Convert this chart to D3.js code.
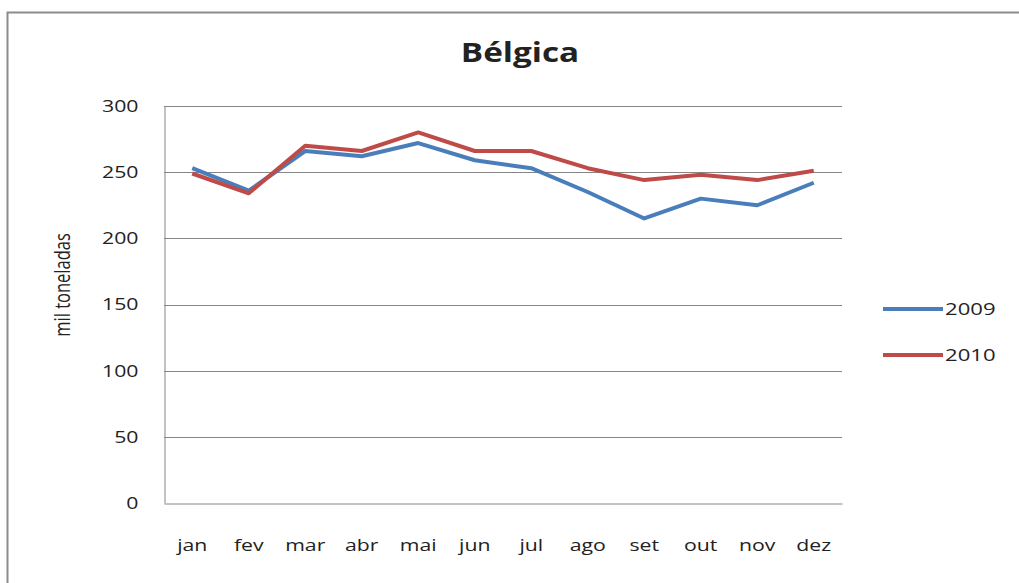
<!DOCTYPE html>
<html>
<head>
<meta charset="utf-8">
<script src="https://cdn.jsdelivr.net/npm/d3@7"></script>
<style>
  html, body { margin: 0; padding: 0; background: #fff; }
  svg { display: block; }
  text { font-family: "Open Sans", "Noto Sans", sans-serif; fill: #222; }
</style>
</head>
<body>
<svg id="chart" width="1019" height="583"></svg>
<script>
const months = ["jan","fev","mar","abr","mai","jun","jul","ago","set","out","nov","dez"];
const values2009 = [253, 236, 266, 262, 272, 259, 253, 235, 215, 230, 225, 242];
const values2010 = [249, 234, 270, 266, 280, 266, 266, 253, 244, 248, 244, 251];
const yTicks = [0, 50, 100, 150, 200, 250, 300];
const seriesNames = ["2009", "2010"];
const seriesColors = ["#4a7ebb", "#be4b48"];
const titleText = "Bélgica";
const yTitle = "mil toneladas";

const svg = d3.select("#chart");
const W = 1019, H = 583;
const plot = { left: 164, right: 842, top: 106, bottom: 503 };
const SX = 1.25; // horizontal stretch of the reference text

// outer frame
svg.append("rect")
  .attr("x", 7.5).attr("y", 12.5)
  .attr("width", W + 20).attr("height", H + 20)
  .attr("fill", "none").attr("stroke", "#8c8c8c").attr("stroke-width", 2);

const x = d3.scaleBand().domain(months).range([plot.left, plot.right]);
const y = d3.scaleLinear().domain([0, 300]).range([plot.bottom, plot.top]);

// gridlines
svg.append("g")
  .selectAll("line").data(yTicks.filter(d => d > 0)).join("line")
  .attr("x1", plot.left).attr("x2", plot.right)
  .attr("y1", d => Math.round(y(d)) + 0.5).attr("y2", d => Math.round(y(d)) + 0.5)
  .attr("stroke", "#868686").attr("stroke-width", 1);

// y axis
const yAxis = d3.axisLeft(y).tickValues(yTicks).tickSize(0).tickPadding(26);
const gy = svg.append("g").attr("transform", `translate(${plot.left + 0.5},0)`).call(yAxis);
gy.select(".domain").attr("stroke", "#868686");
gy.selectAll("text")
  .style("font-size", "17px").attr("fill", "#222")
  .attr("x", -26 / SX)
  .attr("transform", `scale(${SX},1)`);

// x axis
const xAxis = d3.axisBottom(x).tickSize(0).tickPadding(35);
const gx = svg.append("g").attr("transform", `translate(0,${plot.bottom + 0.5})`).call(xAxis);
gx.select(".domain").attr("stroke", "#868686");
gx.selectAll("text")
  .style("font-size", "17px").attr("fill", "#222")
  .attr("transform", `scale(${SX},1)`);

// lines
const line = d3.line()
  .x((d, i) => x(months[i]) + x.bandwidth() / 2)
  .y(d => y(d));
[values2009, values2010].forEach((vals, k) => {
  svg.append("path").datum(vals)
    .attr("d", line)
    .attr("fill", "none")
    .attr("stroke", seriesColors[k])
    .attr("stroke-width", 4)
    .attr("stroke-linejoin", "round");
});

// title
svg.append("text")
  .attr("transform", `translate(520,62) scale(1.28,1)`)
  .attr("text-anchor", "middle")
  .style("font-size", "26px").style("font-weight", "bold")
  .text(titleText);

// y title
svg.append("text")
  .attr("transform", `translate(70,285) rotate(-90) scale(1,1.35)`)
  .attr("text-anchor", "middle")
  .style("font-size", "16.5px")
  .text(yTitle);

// legend
const legend = svg.append("g");
seriesNames.forEach((name, k) => {
  const ly = 309 + k * 46;
  legend.append("line")
    .attr("x1", 883).attr("x2", 943).attr("y1", ly).attr("y2", ly)
    .attr("stroke", seriesColors[k]).attr("stroke-width", 4);
  legend.append("text")
    .attr("transform", `translate(945,${ly}) scale(1.3,1)`)
    .attr("dy", "0.35em")
    .style("font-size", "17px")
    .text(name);
});
</script>
</body>
</html>
